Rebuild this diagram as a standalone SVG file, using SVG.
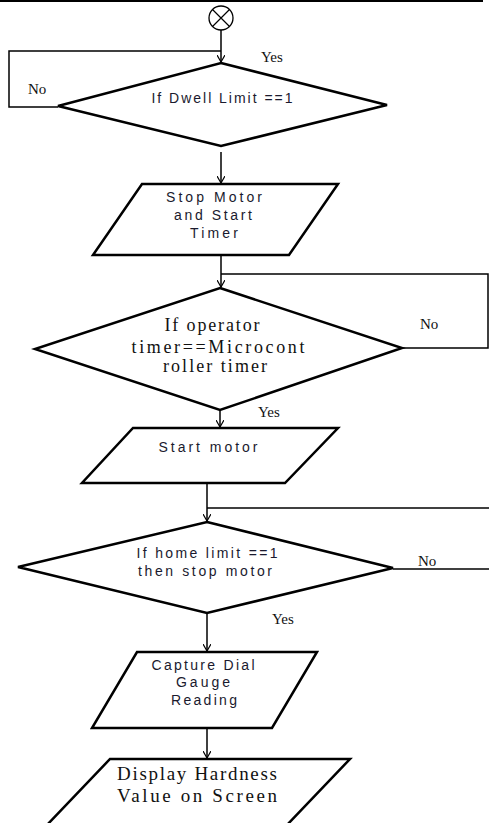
<svg xmlns="http://www.w3.org/2000/svg" width="489" height="823" viewBox="0 0 489 823">
<style>
.shape{fill:#fff;stroke:#000;stroke-width:2.5;stroke-linejoin:miter}
.conn{fill:none;stroke:#000;stroke-width:1.5}
.sans{font-family:"Liberation Sans",Arial,sans-serif;font-size:14px;fill:#1a1a2e;text-anchor:middle}
.serif{font-family:"Liberation Serif","Times New Roman",serif;font-size:18px;fill:#111;text-anchor:middle}
.lbl{font-family:"Liberation Serif","Times New Roman",serif;font-size:15px;fill:#111}
</style>
<defs>
<marker id="arr" markerWidth="8" markerHeight="8" refX="7" refY="4" orient="auto" markerUnits="userSpaceOnUse">
<path d="M0,0 L7,4 L0,8" fill="none" stroke="#000" stroke-width="1.2"/>
</marker>
</defs>
<rect x="0" y="0" width="483" height="2" fill="#000"/>
<g id="connectors">
<path class="conn" d="M221,30 V62" marker-end="url(#arr)"/>
<path class="conn" d="M221,51 H9 V107 H58"/>
<path class="conn" d="M221,152 V183" marker-end="url(#arr)"/>
<path class="conn" d="M221,255 V287" marker-end="url(#arr)"/>
<path class="conn" d="M221,274 H488 V348 H402"/>
<path class="conn" d="M220,410 V427" marker-end="url(#arr)"/>
<path class="conn" d="M207,483 V521" marker-end="url(#arr)"/>
<path class="conn" d="M207,508 H489"/>
<path class="conn" d="M393,569 H489"/>
<path class="conn" d="M207,613 V651" marker-end="url(#arr)"/>
<path class="conn" d="M207,728 V758" marker-end="url(#arr)"/>
</g>
<g id="start">
<circle cx="221" cy="18" r="12" fill="#fff" stroke="#000" stroke-width="1.3"/>
<path d="M212.5,9.5 L229.5,26.5 M229.5,9.5 L212.5,26.5" stroke="#000" stroke-width="1.2"/>
</g>
<g id="d1">
<polygon class="shape" points="221,63 387,105 221,146 58,106"/>
<text class="sans" x="222" y="103" textLength="141" lengthAdjust="spacing">If Dwell Limit ==1</text>
<text class="lbl" x="261" y="62">Yes</text>
<text class="lbl" x="28" y="94">No</text>
</g>
<g id="p1">
<polygon class="shape" points="142,184 338,184 289,255 93,255"/>
<text class="sans" x="214" y="202" textLength="96" lengthAdjust="spacing">Stop Motor</text>
<text class="sans" x="213" y="220" textLength="78" lengthAdjust="spacing">and Start</text>
<text class="sans" x="214" y="238" textLength="48" lengthAdjust="spacing">Timer</text>
</g>
<g id="d2">
<polygon class="shape" points="220,288 402,348 220,410 35,349"/>
<text class="serif" x="212" y="331" textLength="95" lengthAdjust="spacing">If operator</text>
<text class="serif" x="218" y="353" textLength="173" lengthAdjust="spacing">timer==Microcont</text>
<text class="serif" x="215" y="372" textLength="104" lengthAdjust="spacing">roller timer</text>
<text class="lbl" x="420" y="329">No</text>
<text class="lbl" x="258" y="417">Yes</text>
</g>
<g id="p2">
<polygon class="shape" points="133,428 338,428 285,483 82,483"/>
<text class="sans" x="208" y="452" textLength="99" lengthAdjust="spacing">Start motor</text>
</g>
<g id="d3">
<polygon class="shape" points="207,522 393,568 207,613 18,567"/>
<text class="sans" x="207" y="558" textLength="141" lengthAdjust="spacing">If home limit ==1</text>
<text class="sans" x="205" y="576" textLength="134" lengthAdjust="spacing">then stop motor</text>
<text class="lbl" x="418" y="566">No</text>
<text class="lbl" x="272" y="624">Yes</text>
</g>
<g id="p3">
<polygon class="shape" points="137,652 317,652 272,728 92,728"/>
<text class="sans" x="203" y="670" textLength="103" lengthAdjust="spacing">Capture Dial</text>
<text class="sans" x="203" y="687" textLength="54" lengthAdjust="spacing">Gauge</text>
<text class="sans" x="204" y="705" textLength="66" lengthAdjust="spacing">Reading</text>
</g>
<g id="p4">
<polygon class="shape" points="110,759 350,759 286,826 46,826"/>
<text class="serif" x="197" y="780" style="font-size:19px" textLength="160" lengthAdjust="spacing">Display Hardness</text>
<text class="serif" x="197" y="802" style="font-size:19px" textLength="160" lengthAdjust="spacing">Value on Screen</text>
</g>
</svg>
